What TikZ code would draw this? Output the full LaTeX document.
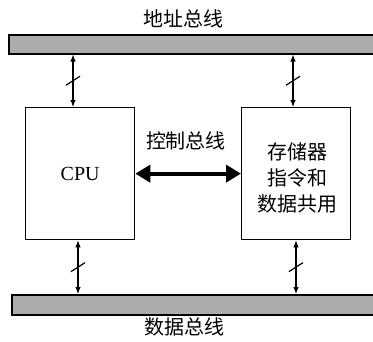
\documentclass[tikz,border=0pt]{standalone}
\usepackage{fontspec}
\setmainfont{Liberation Serif}
\newfontfamily\cjk{Noto Sans CJK SC}
\usetikzlibrary{arrows.meta,calc}

\begin{document}
\begin{tikzpicture}[x=1pt,y=-1pt,
    bus/.style={draw, line width=1.5pt, fill=gray!65, inner sep=0pt, anchor=north west},
    unit/.style={draw, line width=1.3pt, inner sep=0pt, minimum width=109, minimum height=132, anchor=north west},
    link/.style={line width=1.1pt, {Latex[length=7pt,width=5.5pt]}-{Latex[length=7pt,width=5.5pt]}},
    ctrl/.style={line width=3.8pt, {Triangle[length=15pt,width=17pt]}-{Triangle[length=15pt,width=17pt]}},
    txt/.style={font=\cjk\fontsize{20}{26}\selectfont, inner sep=0pt, align=center}]
\useasboundingbox (0,0) rectangle (373,341);

% buses
\node[bus, minimum width=368, minimum height=19] (abus) at (8,34) {};
\node[bus, minimum width=365, minimum height=20] (dbus) at (11,294) {};
\node[txt] (alabel) at (183,19) {地址总线};
\node[txt] (dlabel) at (184,327) {数据总线};

% units
\node[unit] (cpu) at (25,107) {};
\node[unit] (mem) at (241,107) {};
\node[font=\fontsize{20}{22}\selectfont, inner sep=0pt] (cputxt) at (cpu.center) {CPU};
\node[txt] (memtxt) at ($(mem.center)+(1,4)$) {存储器\\指令和\\数据共用};

% control bus
\draw[ctrl] (cpu.east) -- (mem.west);
\node[txt] (clabel) at (186,141) {控制总线};

% bus links
\coordinate (x1) at (73,0);
\coordinate (x2) at (293,0);
\coordinate (x3) at (78,0);
\coordinate (x4) at (296,0);
\draw[link] (abus.south -| x1) -- coordinate[midway] (s1) (cpu.north -| x1);
\draw[link] (abus.south -| x2) -- coordinate[midway] (s2) (mem.north -| x2);
\draw[link] (cpu.south -| x3) -- coordinate[midway] (s3) (dbus.north -| x3);
\draw[link] (mem.south -| x4) -- coordinate[midway] (s4) (dbus.north -| x4);

\foreach \s in {s1,s2,s3,s4}
    \draw[line width=1.2pt] ($(\s)+(-7,4.5)$) -- ($(\s)+(7,-4.5)$);

\end{tikzpicture}
\end{document}
